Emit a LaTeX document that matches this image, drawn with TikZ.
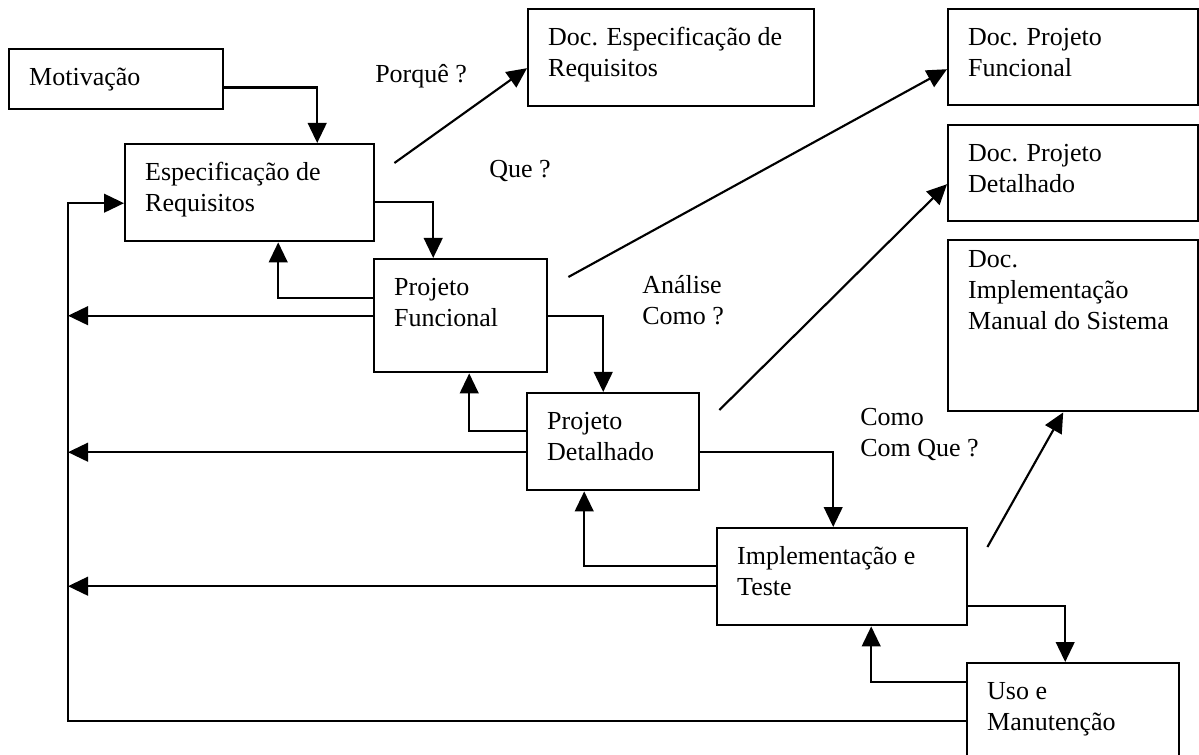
\documentclass[tikz,border=0pt]{standalone}
\usepackage{fontspec}
\setmainfont{Liberation Serif}
\usetikzlibrary{arrows.meta,calc}
\newcommand{\boxtext}[3]{\parbox[t][#2][t]{#1}{\raggedright\strut#3}}

\begin{document}
\begin{tikzpicture}[x=0.75pt,y=-0.75pt,
    every node/.style={font=\fontsize{19.5}{23.25}\selectfont},
    box/.style={draw,line width=1.8pt,anchor=north west,inner xsep=15pt,inner ysep=10.7pt},
    ask/.style={anchor=north west,inner sep=0pt,align=left},
    flow/.style={line width=1.6pt,-{Triangle[length=15pt,width=14pt]}}]
  \useasboundingbox (0,0) rectangle (1199,755);
  \path
    (8,48) node[box] (mot) {\boxtext{130.5pt}{23.25pt}{Motivação}}
    (124,143) node[box] (esp) {\boxtext{156.75pt}{51.35pt}{Especificação de\\Requisitos}}
    (373,258) node[box] (pf) {\boxtext{99.75pt}{63.35pt}{Projeto\\Funcional}}
    (526,392) node[box] (pd) {\boxtext{99pt}{51.35pt}{Projeto\\Detalhado}}
    (716,527) node[box] (impl) {\boxtext{157.5pt}{51.35pt}{Implementação e\\Teste}}
    (966,662) node[box] (uso) {\boxtext{129pt}{53.6pt}{Uso e\\Manutenção}}
    (527,8) node[box] (desp) {\boxtext{184.5pt}{51.35pt}{Doc. Especificação de\\Requisitos}}
    (947,8) node[box] (dpf) {\boxtext{157.5pt}{50.6pt}{Doc. Projeto\\Funcional}}
    (947,124) node[box] (dpd) {\boxtext{157.5pt}{50.6pt}{Doc. Projeto\\Detalhado}}
    (947,239) node[box,inner ysep=4pt] (dimpl) {\boxtext{157.5pt}{120.25pt}{Doc.\\Implementação\\Manual~do~Sistema}};
  \path
    (375,60.3) node[ask] (why) {\strut Porquê ?}
    (489,155.3) node[ask] (what) {\strut Que ?}
    (642,271.3) node[ask] (how) {\strut Análise\\Como ?}
    (860,403.3) node[ask] (with) {\strut Como\\Com Que ?};
  \coordinate (back) at (68,720);
  \begin{scope}[flow]
    % forward path
    \draw ($(mot.east)+(0,8.5)$) -| ($(esp.north)+(67.5,0)$);
    \draw ($(esp.east)+(0,9.5)$) -| ($(pf.north)+(-27.5,0)$);
    \draw (pf.east) -| ($(pd.north)+(-10,0)$);
    \draw ($(pd.east)+(0,10.5)$) -| ($(impl.north)+(-9,0)$);
    \draw ($(impl.east)+(0,29.5)$) -| ($(uso.north)+(-8,0)$);
    % one step back
    \draw ($(pf.west)+(0,-17.5)$) -| ($(esp.south)+(28.5,0)$);
    \draw ($(pd.west)+(0,-10.5)$) -| ($(pf.south)+(8.5,0)$);
    \draw ($(impl.west)+(0,-10.5)$) -| ($(pd.south)+(-29,0)$);
    \draw ($(uso.west)+(0,-31)$) -| ($(impl.south)+(29,0)$);
    % back to the start
    \draw (pf.west) -- (pf.west -| back);
    \draw ($(pd.west)+(0,10.5)$) -- ($(pd.west -| back)+(0,10.5)$);
    \draw ($(impl.west)+(0,9.5)$) -- ($(impl.west -| back)+(0,9.5)$);
    \draw ($(uso.west)+(0,8)$) coordinate (low) -- (low -| back) |- ($(esp.west)+(0,10.5)$);
    % documents
    \draw ($(esp.north east)+(19,20)$) -- ($(desp.west)+(0,10.5)$);
    \draw ($(pf.north east)+(20,19)$) -- ($(dpf.west)+(0,12)$);
    \draw ($(pd.north east)+(19,18)$) -- ($(dpd.west)+(0,11)$);
    \draw ($(impl.north east)+(19,20)$) -- ($(dimpl.south)+(-10,0)$);
  \end{scope}
\end{tikzpicture}
\end{document}
